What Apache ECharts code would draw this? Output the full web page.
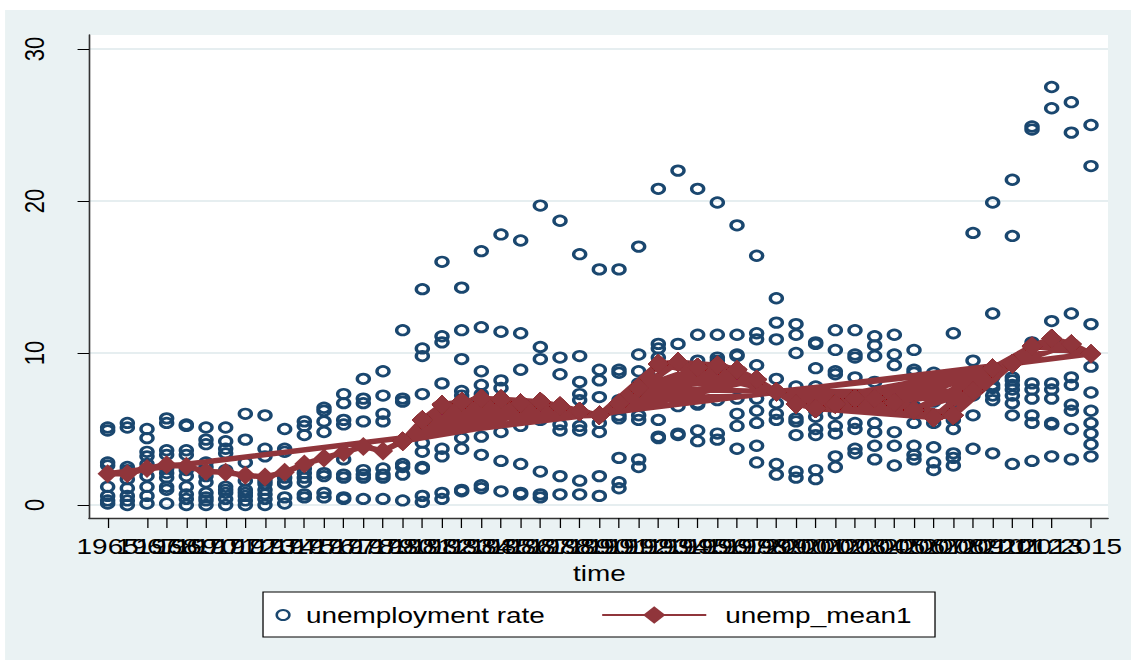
<!DOCTYPE html>
<html>
<head>
<meta charset="utf-8">
<script src="https://cdn.jsdelivr.net/npm/echarts@6.0.0/dist/echarts.min.js"></script>
<style>
html, body { margin: 0; padding: 0; background: #fff; overflow: hidden; }
/* the exported Stata graph was stretched sideways, so draw narrow and stretch */
#chart { width: 891px; height: 660px; transform: scaleX(1.26936); transform-origin: 0 0; }
</style>
</head>
<body>
<div id="chart"></div>
<script>
var years = [1965, 1966, 1967, 1968, 1969, 1970, 1971, 1972, 1973, 1974,
    1975, 1976, 1977, 1978, 1979, 1980, 1981, 1982, 1983, 1984,
    1985, 1986, 1987, 1988, 1989, 1990, 1991, 1992, 1993, 1994,
    1995, 1996, 1997, 1998, 1999, 2000, 2001, 2002, 2003, 2004,
    2005, 2006, 2007, 2008, 2009, 2010, 2011, 2012, 2013, 2014, 2015]

// unemployment rate of every country, one list per year
var rates60s = [
    [5.1, 4.9, 2.8, 2.6, 1.2, 0.6, 0.3, 0.1],
    [5.4, 5.1, 2.5, 2.3, 1.7, 1.1, 0.6, 0.3, 0.0],
    [5.0, 4.4, 3.5, 3.2, 2.7, 1.9, 1.2, 0.6, 0.1],
    [5.7, 5.4, 3.6, 3.3, 2.4, 2.1, 1.8, 1.2, 1.0, 0.1],
    [5.3, 5.2, 3.6, 3.3, 2.3, 1.9, 1.2, 0.7, 0.4, 0.0]
]
var rates70s = [
    [5.1, 4.3, 4.0, 2.8, 2.5, 1.9, 1.5, 0.8, 0.5, 0.3, 0.0],
    [5.1, 4.2, 3.7, 3.4, 2.3, 1.2, 1.0, 0.8, 0.4, 0.0],
    [6.0, 4.3, 2.8, 1.6, 1.0, 0.8, 0.6, 0.3, 0.0],
    [5.9, 3.7, 3.2, 1.6, 1.4, 1.0, 0.7, 0.4, 0.0],
    [5.0, 3.7, 3.5, 2.1, 1.8, 1.5, 1.4, 0.5, 0.1],
    [5.5, 5.2, 4.6, 2.4, 2.1, 1.8, 1.5, 0.7, 0.5],
    [6.4, 6.2, 5.5, 4.8, 2.1, 1.9, 0.8, 0.5],
    [7.3, 6.7, 5.6, 5.3, 3.0, 2.0, 1.8, 0.5, 0.4],
    [8.3, 7.0, 6.7, 5.5, 2.3, 2.0, 1.8, 0.4],
    [8.8, 7.2, 6.0, 5.5, 2.4, 2.0, 1.8, 0.4]
]
var rates80s = [
    [11.5, 7.0, 6.8, 2.7, 2.5, 2.0, 0.3],
    [14.2, 10.3, 9.8, 7.3, 4.1, 3.5, 2.5, 2.4, 0.6, 0.2],
    [16.0, 11.1, 10.7, 8.0, 3.7, 3.2, 0.8, 0.4],
    [14.3, 11.5, 9.6, 7.5, 7.2, 4.4, 3.7, 1.0, 0.9],
    [16.7, 11.7, 8.8, 7.9, 7.3, 4.5, 3.3, 1.3, 1.1],
    [17.8, 11.4, 8.2, 7.7, 7.0, 4.8, 2.9, 0.9],
    [17.4, 11.3, 8.9, 6.0, 5.2, 2.7, 0.8, 0.7],
    [19.7, 10.4, 9.6, 5.6, 2.2, 0.7, 0.5],
    [18.7, 9.7, 8.6, 5.3, 4.9, 1.9, 0.7],
    [16.5, 9.8, 8.1, 7.3, 6.9, 5.2, 4.9, 1.6, 0.7]
]
var rates90s = [
    [15.5, 8.9, 8.2, 7.1, 5.4, 4.8, 1.9, 0.6],
    [15.5, 8.9, 8.7, 6.9, 5.9, 5.7, 3.1, 1.5, 1.1],
    [17.0, 9.9, 8.8, 8.0, 5.9, 5.6, 3.0, 2.5],
    [20.8, 10.6, 10.3, 9.7, 8.8, 5.6, 4.5, 4.4],
    [22.0, 10.6, 9.3, 8.2, 6.5, 4.7, 4.6],
    [20.8, 11.2, 9.5, 6.7, 6.6, 4.9, 4.2],
    [19.9, 11.2, 9.7, 9.5, 6.9, 4.7, 4.3],
    [18.4, 11.2, 9.9, 9.8, 7.0, 6.0, 5.2, 3.7],
    [16.4, 11.3, 10.9, 9.2, 7.0, 6.2, 5.4, 3.9, 2.8],
    [13.6, 12.0, 10.9, 8.3, 6.7, 6.0, 5.6, 2.7, 2.0]
]
var rates00s = [
    [11.9, 11.2, 10.0, 7.8, 5.7, 5.5, 4.6, 2.2, 1.8],
    [10.7, 10.6, 9.0, 7.8, 6.2, 5.8, 5.0, 4.6, 2.3, 1.7],
    [11.5, 10.2, 8.8, 8.6, 6.0, 5.2, 4.7, 3.2, 2.5],
    [11.5, 9.9, 9.7, 8.4, 6.6, 5.4, 5.0, 3.7, 3.4],
    [11.1, 10.5, 9.8, 8.1, 6.5, 5.4, 4.8, 3.9, 3.0],
    [11.2, 9.9, 9.2, 7.0, 4.8, 3.9, 2.6],
    [10.2, 8.9, 8.7, 6.5, 5.4, 3.9, 3.3, 3.0],
    [8.7, 7.5, 6.8, 5.4, 3.8, 2.8, 2.3],
    [11.3, 6.8, 5.6, 5.0, 3.4, 3.1, 2.6],
    [17.9, 9.5, 7.8, 7.2, 5.9, 3.7]
]
var rates10s = [
    [19.9, 12.6, 9.0, 8.4, 7.9, 7.7, 7.2, 6.9, 3.4],
    [21.4, 17.7, 8.4, 8.2, 7.9, 7.6, 7.2, 6.7, 5.9, 2.7],
    [24.9, 24.7, 10.7, 8.0, 7.6, 7.0, 5.9, 5.4, 2.9],
    [27.5, 26.1, 12.1, 8.0, 7.6, 7.0, 5.4, 5.3, 3.2],
    [26.5, 24.5, 12.6, 8.4, 7.9, 6.6, 6.2, 5.0, 3.0],
    [25.0, 22.3, 11.9, 9.1, 7.4, 6.2, 5.4, 4.7, 4.0, 3.2]
]

// yearly mean (unemp_mean1)
var meanRate = [2.05, 2.05, 2.4, 2.65, 2.55, 2.2, 2.15, 1.95, 1.85, 2.15,
    2.7, 3.1, 3.45, 3.85, 3.55, 4.2, 5.6, 6.6, 6.8, 7.0,
    6.95, 6.7, 6.8, 6.5, 6.15, 5.9, 6.7, 7.7, 9.3, 9.4,
    9.05, 9.2, 8.9, 8.25, 7.45, 6.65, 6.35, 6.65, 7.0, 7.0,
    6.75, 6.25, 5.75, 5.9, 7.5, 9.0, 9.3, 10.45, 10.95, 10.6, 9.95]

// the rows were not sorted by time, so the connected line first jumps
// back and forth inside these year spans and then runs through 1965-2015
var rowSpans = [[1980, 1990], [1990, 1999], [1999, 2011], [2010, 2015]]

var FONT = "Liberation Sans"

var allRates = rates60s.concat(rates70s, rates80s, rates90s, rates00s, rates10s)
var scatterData = []
years.forEach(function (y, i) {
    allRates[i].forEach(function (v) { scatterData.push([y, v]) })
})

function m(y) { return meanRate[years.indexOf(y)] }
var rowYears = []
function addRun(from, to) {
    for (var y = from; y <= to; y++) rowYears.push(y)
}
rowSpans.forEach(function (s) {
    for (var i = s[0]; i < s[1]; i++) {
        for (var j = i + 1; j <= s[1]; j++) addRun(i, j)
    }
})
addRun(years[0], years[years.length - 1])
var meanPath = rowYears.map(function (y) { return [y, m(y)] })

var chart = echarts.init(document.getElementById("chart"), null, {renderer: "svg"})
var axisColor = "#333"
var option = {
    backgroundColor: "#fff",
    animation: false,
    textStyle: {fontFamily: FONT},
    graphic: [
        {type: "rect", z: -10, silent: true,
            shape: {x: 4, y: 10, width: 900, height: 660},
            style: {fill: "#eaf2f3"}},
        {type: "rect", z: 1, silent: true,
            shape: {x: 207.2, y: 592, width: 529.4, height: 45},
            style: {fill: "#fff", stroke: "#000", lineWidth: 1}}
    ],
    grid: [
        // plot region
        {left: 70.1, right: 18.1, top: 35, bottom: 142, show: true, backgroundColor: "#fff", borderWidth: 0},
        // data
        {left: 70.1, right: 18.1, top: 49, bottom: 155},
        // time ticks
        {left: 84.8, right: 31.5, top: 49, bottom: 142}
    ],
    xAxis: [
        {gridIndex: 0, type: "value", min: 0, max: 1,
            axisLine: {show: true, onZero: false, lineStyle: {color: axisColor, width: 1.3}},
            axisTick: {show: false}, axisLabel: {show: false}, splitLine: {show: false}},
        {gridIndex: 1, type: "value", min: 1964.05, max: 2015.865, show: false},
        {gridIndex: 2, type: "value", min: 1965, max: 2015, interval: 1,
            name: "time", nameLocation: "middle", nameGap: 29,
            nameTextStyle: {fontSize: 22, color: "#000", fontFamily: FONT},
            axisLine: {show: false},
            axisTick: {show: true, length: 10, lineStyle: {color: "#000", width: 1}},
            axisLabel: {interval: 0, fontSize: 22, color: "#000", margin: 17, fontFamily: FONT,
                showMinLabel: true, showMaxLabel: true, hideOverlap: false,
                formatter: function (v) { return String(v) }},
            splitLine: {show: false}}
    ],
    yAxis: [
        {gridIndex: 0, type: "value", min: 0, max: 1,
            axisLine: {show: true, onZero: false, lineStyle: {color: axisColor, width: 1.3}},
            axisTick: {show: false}, axisLabel: {show: false}, splitLine: {show: false}},
        {gridIndex: 1, type: "value", min: 0, max: 30, interval: 10,
            axisLine: {show: false},
            axisTick: {show: true, length: 9, lineStyle: {color: "#000", width: 1}},
            axisLabel: {rotate: 90, fontSize: 22, color: "#000", margin: 32, fontFamily: FONT,
                showMinLabel: true, showMaxLabel: true},
            splitLine: {show: true, lineStyle: {color: "#e6eef0", width: 2}}},
        {gridIndex: 2, type: "value", min: 0, max: 1, show: false}
    ],
    legend: [
        {data: ["unemployment rate"], left: 217, top: 604, padding: 0,
            itemWidth: 26, itemHeight: 10, selectedMode: false,
            textStyle: {fontSize: 22, color: "#000", fontFamily: FONT}},
        {data: ["unemp_mean1"], left: 473.4, top: 604, padding: 0,
            itemWidth: 82, itemHeight: 22, selectedMode: false,
            textStyle: {fontSize: 22, color: "#000", fontFamily: FONT, padding: [0, 0, 0, 10]}}
    ],
    series: [
        {name: "unemployment rate", type: "scatter", xAxisIndex: 1, yAxisIndex: 1,
            symbol: "circle", symbolSize: 9.5,
            itemStyle: {color: "rgba(255,255,255,0)", borderColor: "#1a476f", borderWidth: 2.7, opacity: 1},
            data: scatterData},
        {name: "unemp_mean1", type: "line", xAxisIndex: 1, yAxisIndex: 1,
            symbol: "diamond", symbolSize: [16, 19], showSymbol: true, showAllSymbol: true,
            lineStyle: {color: "#90353b", width: 5.5},
            itemStyle: {color: "#90353b"},
            data: meanPath}
    ]
}
chart.setOption(option)
</script>
</body>
</html>
